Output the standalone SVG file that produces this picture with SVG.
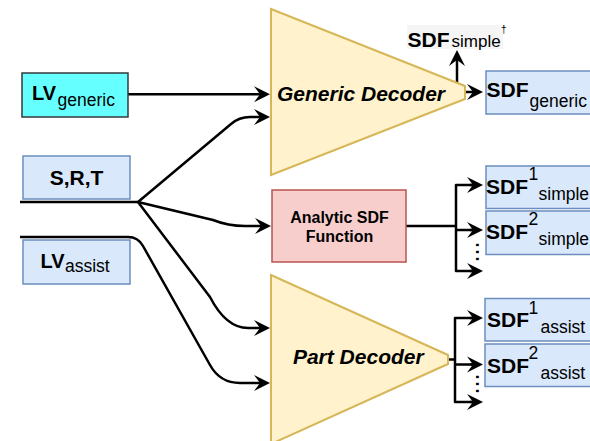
<svg xmlns="http://www.w3.org/2000/svg" width="590" height="441" viewBox="0 0 590 441">
  <style>
    .ln{fill:none;stroke:#000;stroke-width:2.5;stroke-linejoin:round}
    .ar{marker-end:url(#ah)}
    .blue{fill:#dae8fc;stroke:#6c8ebf;stroke-width:1.5}
    .dec{fill:#fff2cc;stroke:#d6b656;stroke-width:2}
    .t{font-family:"Liberation Sans",Arial,sans-serif;fill:#000}
    .b{font-weight:bold}
    .big{font-size:21px}
    .sm{font-size:17.5px}
  </style>
  <defs>
    <marker id="ah" markerUnits="userSpaceOnUse" markerWidth="18" markerHeight="18" viewBox="0 -9 18 18" refX="6" refY="0" orient="auto">
      <path d="M16,0 L0,-8 L6,0 L0,8 Z" fill="#000"/>
    </marker>
  </defs>

  <g id="connectors">
    <path class="ln ar" d="M128,94.3 L260,94.3"/>
    <path class="ln" d="M20,202 L138,202"/>
    <path class="ln ar" d="M138,202 L231,124 Q239,117 250,117 L260,117"/>
    <path class="ln ar" d="M138,202 L213,220 Q228,226 245,226 L261,226"/>
    <path class="ln ar" d="M138,202 L210,297 Q226,328 248,328 L260,328"/>
    <path class="ln ar" d="M20,237 L128,237 Q138,237 143,246 L210,365 Q220,383 240,383 L260,383"/>
    <path class="ln ar" d="M465,92 L473,92"/>
    <path class="ln ar" d="M457,84 L457,60"/>
    <path class="ln" d="M406,226 L456,226"/>
    <path class="ln" d="M473,185 L456,185 L456,271 L473,271"/>
    <path class="ln" d="M456,230 L473,230"/>
    <path class="ln ar" d="M470,185 L473,185"/>
    <path class="ln ar" d="M470,230 L473,230"/>
    <path class="ln ar" d="M470,271 L473,271"/>
    <path class="ln" d="M448,359.5 L455,359.5"/>
    <path class="ln" d="M473,318 L455,318 L455,402 L473,402"/>
    <path class="ln" d="M455,364.5 L473,364.5"/>
    <path class="ln ar" d="M470,318 L473,318"/>
    <path class="ln ar" d="M470,364.5 L473,364.5"/>
    <path class="ln ar" d="M470,402 L473,402"/>
  </g>

  <g id="lv-generic">
    <rect x="22" y="73" width="106" height="44" fill="#66ffff" stroke="#36393d" stroke-width="1.5"/>
    <text class="t b" x="32" y="100" font-size="20">LV</text>
    <text class="t sm" x="57.5" y="106">generic</text>
  </g>

  <g id="srt">
    <rect class="blue" x="23" y="156" width="107" height="43"/>
    <text class="t b big" x="76.5" y="185" text-anchor="middle">S,R,T</text>
  </g>

  <g id="lv-assist">
    <rect class="blue" x="23" y="240" width="107" height="44"/>
    <text class="t b" x="40.5" y="267.7" font-size="20">LV</text>
    <text class="t sm" x="65" y="272">assist</text>
  </g>

  <g id="generic-decoder">
    <polygon class="dec" points="271,9 465,86 465,99 271,175"/>
    <text class="t b big" x="361" y="100.7" text-anchor="middle" font-style="italic">Generic Decoder</text>
  </g>

  <g id="sdf-simple-dagger">
    <rect x="407" y="25" width="96" height="24" fill="#f5f5f5"/>
    <text class="t b big" x="407.5" y="46.5">SDF</text>
    <text class="t" x="451.5" y="46.5" font-size="17">simple</text>
    <text class="t" x="501" y="33" font-size="10" fill="#999">†</text>
  </g>

  <g id="sdf-generic">
    <rect class="blue" x="486" y="71" width="120" height="43"/>
    <text class="t b big" x="486.5" y="96.7">SDF</text>
    <text class="t sm" x="529.5" y="106.5">generic</text>
  </g>

  <g id="analytic-sdf">
    <rect x="272" y="190" width="134" height="72" fill="#f8cecc" stroke="#b85450" stroke-width="1.5"/>
    <text class="t b" x="339.5" y="223.3" font-size="16" text-anchor="middle">Analytic SDF</text>
    <text class="t b" x="339.5" y="241.7" font-size="16" text-anchor="middle">Function</text>
  </g>

  <g id="sdf1-simple">
    <rect class="blue" x="486" y="166" width="120" height="42.5"/>
    <text class="t b big" x="486" y="193.5">SDF</text>
    <text class="t sm" x="528.5" y="180">1</text>
    <text class="t sm" x="538.5" y="199.5">simple</text>
  </g>

  <g id="sdf2-simple">
    <rect class="blue" x="486" y="211" width="120" height="43.5"/>
    <text class="t b big" x="486" y="238.5">SDF</text>
    <text class="t sm" x="528.5" y="225">2</text>
    <text class="t sm" x="538.5" y="245">simple</text>
  </g>

  <g id="dots-simple">
    <text class="t" font-size="25" transform="translate(475.7,241.5) rotate(90)">...</text>
  </g>

  <g id="part-decoder">
    <polygon class="dec" points="271,275 448,355 448,364 271,444"/>
    <text class="t b big" x="358.3" y="364" text-anchor="middle" font-style="italic">Part Decoder</text>
  </g>

  <g id="sdf1-assist">
    <rect class="blue" x="485" y="298.5" width="120" height="42.5"/>
    <text class="t b big" x="487" y="327">SDF</text>
    <text class="t sm" x="528.5" y="313.5">1</text>
    <text class="t sm" x="540.5" y="332.5">assist</text>
  </g>

  <g id="sdf2-assist">
    <rect class="blue" x="485" y="344" width="120" height="42.5"/>
    <text class="t b big" x="487" y="373">SDF</text>
    <text class="t sm" x="528.5" y="358.5">2</text>
    <text class="t sm" x="540.5" y="378.5">assist</text>
  </g>

  <g id="dots-assist">
    <text class="t" font-size="25" transform="translate(475.5,373.5) rotate(90)">...</text>
  </g>
</svg>
